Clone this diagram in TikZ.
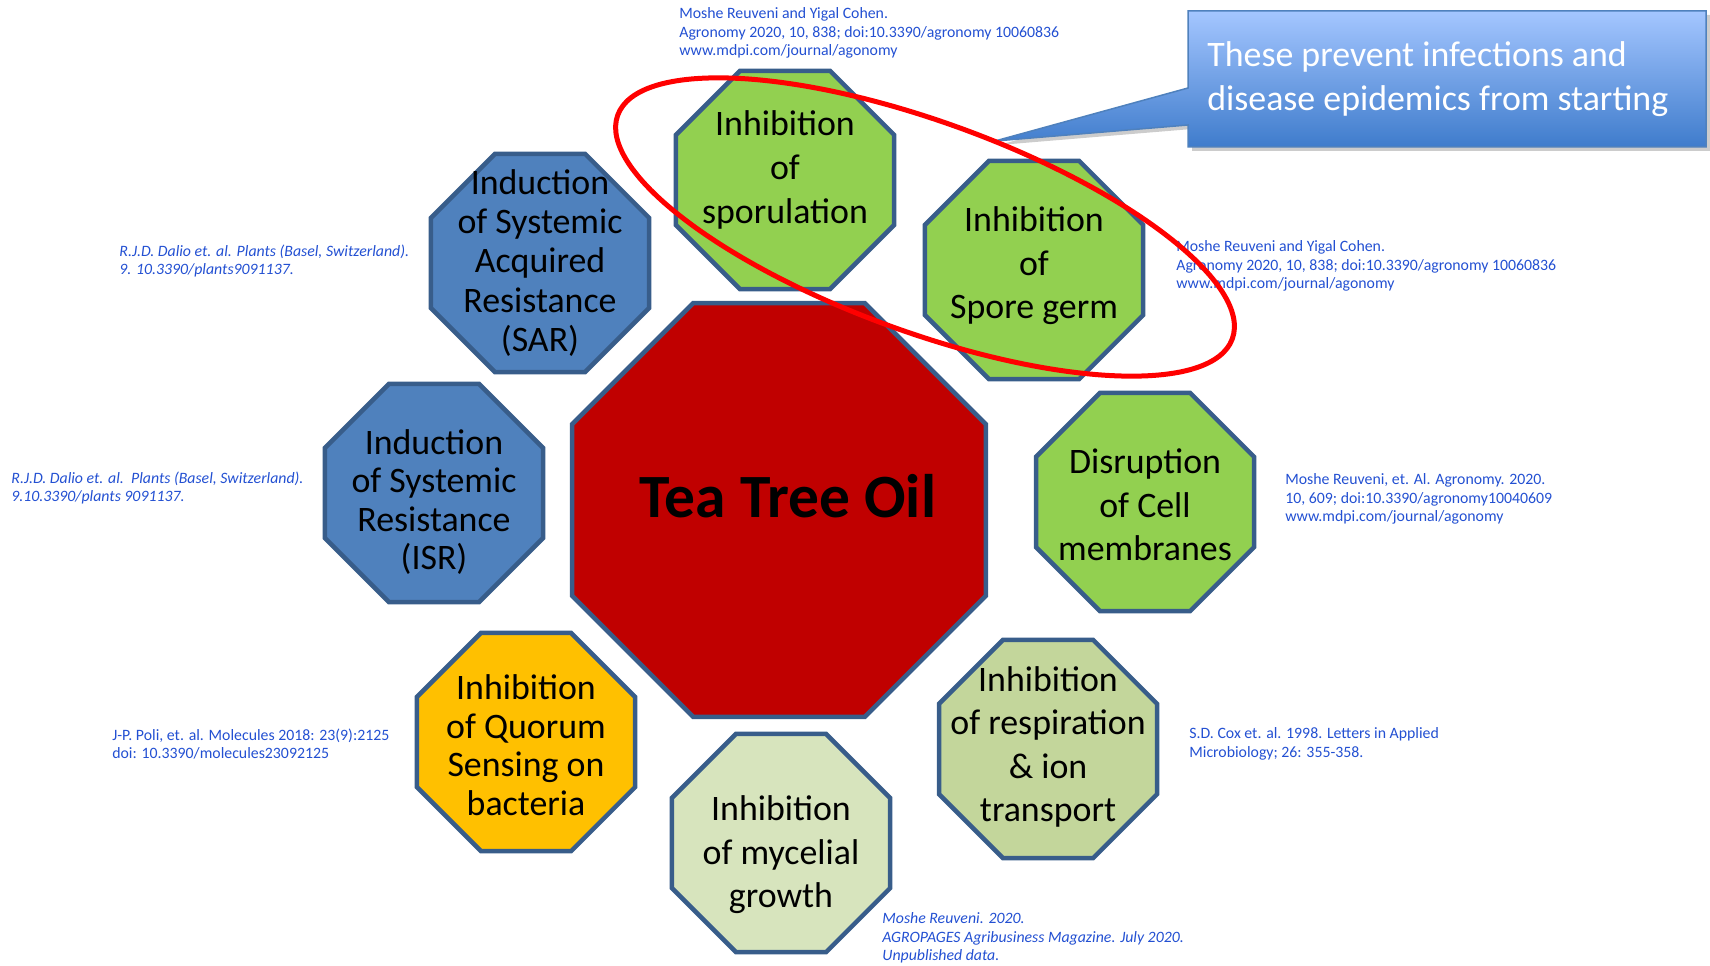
\documentclass[tikz,border=0pt]{standalone}
\usepackage{fontspec}
\setmainfont{Carlito}
\usetikzlibrary{shapes.geometric,shadows}
\definecolor{Leaf}{HTML}{92D050}
\definecolor{Steel}{HTML}{4F81BD}
\definecolor{Gold}{HTML}{FFC000}
\definecolor{Sage}{HTML}{D7E4BD}
\definecolor{Olive}{HTML}{C3D69B}
\definecolor{Oil}{HTML}{C00000}
\definecolor{Rim}{HTML}{385D8A}
\definecolor{Cite}{HTML}{2350D2}
\definecolor{NoteTop}{HTML}{A4C6FF}
\definecolor{NoteBot}{HTML}{3F7CCC}
\begin{document}
\begin{tikzpicture}[x=.2mm,y=-.2mm,
    octa/.style={regular polygon,regular polygon sides=8,draw=Rim,line width=.9mm,inner sep=0pt,minimum size=47.2mm},
    octatext/.style={align=center,font=\fontsize{20.4}{#1}\selectfont},
    cite/.style={anchor=west,align=left,inner sep=0pt,text=Cite,font=\fontsize{9}{10.5}\selectfont},
    citeit/.style={cite,font=\fontsize{9}{10.5}\selectfont\itshape}]
    \useasboundingbox (0,0) rectangle (1710,966);
    \node[octa,fill=Oil,minimum size=89.6mm] (oil) at (779,510) {};
    \node[font=\fontsize{35}{40}\selectfont\bfseries] (oil-t) at (788,496) {Tea Tree Oil};
    \foreach \nm/\xx/\yy/\col/\dy/\ls/\txt in {
      spor/785/180/Leaf/-10/24.8/{Inhibition\\of\\sporulation},
      germ/1034/270/Leaf/-4/24.8/{Inhibition\\of\\Spore germ},
      sar/540/263/Steel/0/22.3/{Induction\\of Systemic\\Acquired\\Resistance\\(SAR)},
      isr/434/493/Steel/9/21.9/{Induction\\of Systemic\\Resistance\\(ISR)},
      cell/1145/502/Leaf/3/24.8/{Disruption\\of Cell\\membranes},
      quorum/526/742/Gold/3/21.9/{Inhibition\\of Quorum\\Sensing on\\bacteria},
      resp/1048/749/Olive/-2/24.8/{Inhibition\\of respiration\\\& ion\\transport},
      myc/781/843/Sage/12/24.8/{Inhibition\\of mycelial\\growth}}{
      \node[octa,fill=\col] (\nm) at (\xx,\yy) {};
      \node[octatext=\ls] (\nm-t) at (\xx,\yy+\dy) {\txt};
    }
    \node[cite] (c-spor) at (679,33) {Moshe Reuveni and Yigal Cohen.\\Agronomy 2020, 10, 838; doi:10.3390/agronomy 10060836\\www.mdpi.com/journal/agonomy};
    \node[cite] (c-germ) at (1176,266) {Moshe Reuveni and Yigal Cohen.\\Agronomy 2020, 10, 838; doi:10.3390/agronomy 10060836\\www.mdpi.com/journal/agonomy};
    \node[citeit] (c-sar) at (119,261) {R.J.D. Dalio et. al. Plants (Basel, Switzerland).\\9. 10.3390/plants9091137.};
    \node[citeit] (c-isr) at (11,488) {R.J.D. Dalio et. al.\ \ Plants (Basel, Switzerland).\\9.10.3390/plants 9091137.};
    \node[cite] (c-cell) at (1285,499) {Moshe Reuveni, et. Al. Agronomy. 2020.\\10, 609; doi:10.3390/agronomy10040609\\www.mdpi.com/journal/agonomy};
    \node[cite] (c-quorum) at (112,744) {J-P. Poli, et. al. Molecules 2018: 23(9):2125\\doi: 10.3390/molecules23092125};
    \node[cite] (c-resp) at (1189,744) {S.D. Cox et. al. 1998. Letters in Applied\\Microbiology; 26: 355-358.};
    \node[citeit] (c-myc) at (882,938) {Moshe Reuveni. 2020.\\AGROPAGES Agribusiness Magazine. July 2020.\\Unpublished data.};
    \coordinate (tip) at (995,141);
    \shade[top color=NoteTop,bottom color=NoteBot,draw=Steel,line width=.3mm,drop shadow={opacity=.4,shadow xshift=.8mm,shadow yshift=-.8mm}]
      (1188,11) -- (1706,11) -- (1706,147) -- (1188,147) -- (1188,125) -- (tip) -- (1188,88) -- cycle;
    \node[anchor=west,align=left,inner sep=0pt,text=white,font=\fontsize{20.4}{24.8}\selectfont] (note) at (1207,79) {These prevent infections and\\disease epidemics from starting};
    \coordinate (ring) at (925,227);
    \draw[red,line width=1mm,rotate around={-20:(ring)}] (ring) ellipse [x radius=65.4mm,y radius=21mm];
  \end{tikzpicture}
\end{document}
